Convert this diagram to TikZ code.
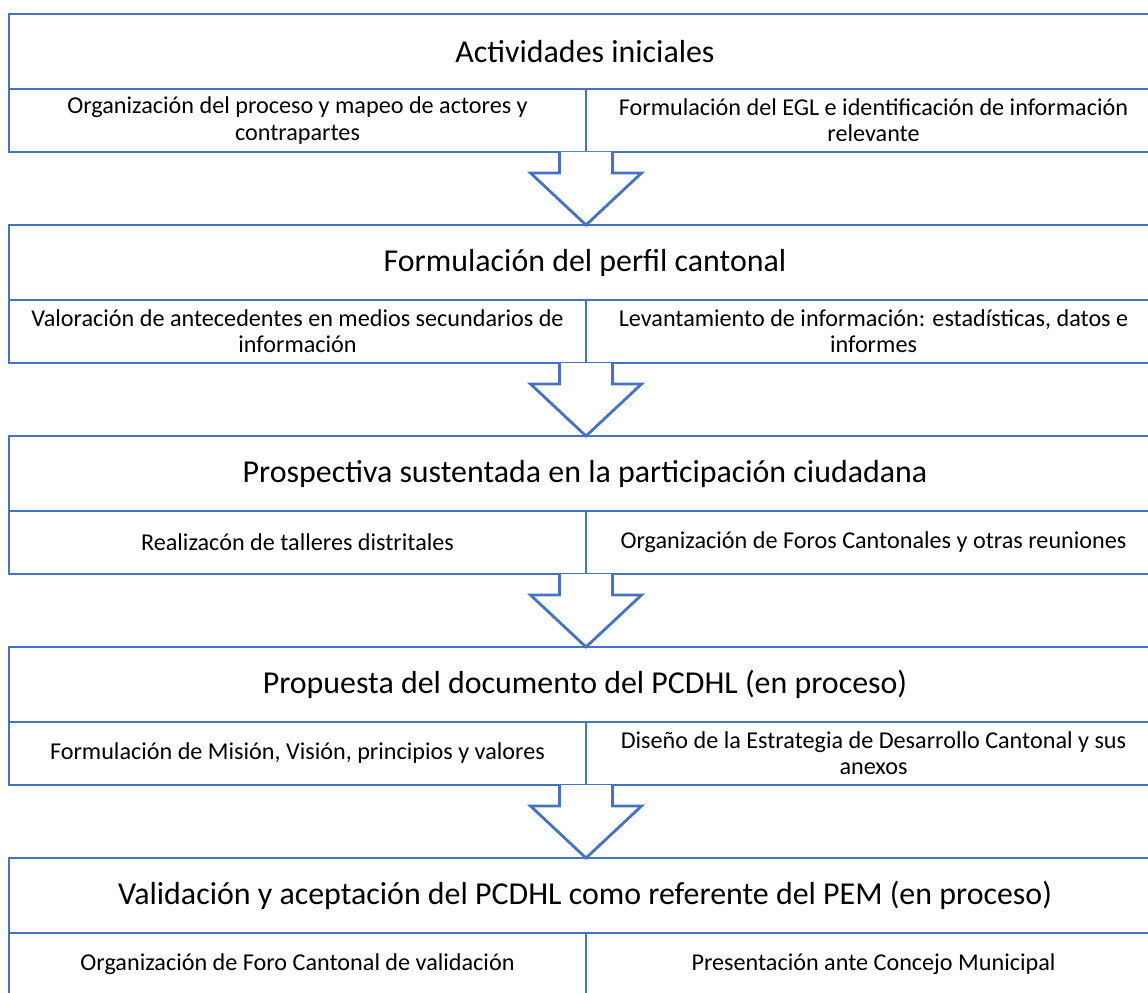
\documentclass[tikz,border=0pt]{standalone}
\usepackage{fontspec}
\setmainfont{Carlito}
\usepackage{xcolor}
\usetikzlibrary{positioning,calc}
\definecolor{boxblue}{HTML}{4472C4}
\tikzset{
  stagetitle/.style={draw=boxblue,line width=2pt,fill=white,inner sep=0pt,outer sep=0pt,
    minimum width=28.8cm,minimum height=1.875cm,font=\fontsize{22.7}{26}\selectfont},
  leftcell/.style={draw=boxblue,line width=2pt,inner sep=0pt,outer sep=0pt,align=center,
    minimum width=14.425cm,minimum height=1.575cm,font=\fontsize{17.2}{18.6}\selectfont},
  rightcell/.style={leftcell,minimum width=14.375cm},
  blockarrow/.style={draw=boxblue,line width=2pt,fill=white,line join=miter}
}

\begin{document}
\begin{tikzpicture}
\clip (0,0) rectangle (28.7,-24.8);
% Stage 1
\node[stagetitle,anchor=north west] (t1) at (0.225,-0.35) {Actividades iniciales};
\node[leftcell,anchor=north west] (l1) at (t1.south west) {Organización del proceso y mapeo de actores y\\contrapartes};
\node[rightcell,anchor=north west] (r1) at (l1.north east) {Formulación del EGL e identificación de información\\relevante};
% Stage 2
\node[stagetitle,below=1.825cm of l1.south west,anchor=north west] (t2) {Formulación del perfil cantonal};
\node[leftcell,anchor=north west] (l2) at (t2.south west) {Valoración de antecedentes en medios secundarios de\\información};
\node[rightcell,anchor=north west] (r2) at (l2.north east) {Levantamiento de información: estadísticas, datos e\\informes};
% Stage 3
\node[stagetitle,below=1.825cm of l2.south west,anchor=north west] (t3) {Prospectiva sustentada en la participación ciudadana};
\node[leftcell,anchor=north west] (l3) at (t3.south west) {Realizacón de talleres distritales};
\node[rightcell,anchor=north west] (r3) at (l3.north east) {Organización de Foros Cantonales y otras reuniones};
% Stage 4
\node[stagetitle,below=1.825cm of l3.south west,anchor=north west] (t4) {Propuesta del documento del PCDHL (en proceso)};
\node[leftcell,anchor=north west] (l4) at (t4.south west) {Formulación de Misión, Visión, principios y valores};
\node[rightcell,anchor=north west] (r4) at (l4.north east) {Diseño de la Estrategia de Desarrollo Cantonal y sus\\anexos};
% Stage 5
\node[stagetitle,below=1.825cm of l4.south west,anchor=north west] (t5) {Validación y aceptación del PCDHL como referente del PEM (en proceso)};
\node[leftcell,anchor=north west] (l5) at (t5.south west) {Organización de Foro Cantonal de validación};
\node[rightcell,anchor=north west] (r5) at (l5.north east) {Presentación ante Concejo Municipal};
% Block arrows
\foreach \a/\b in {l1/t2,l2/t3,l3/t4,l4/t5}
  \draw[blockarrow] ($(\a.south east)+(-0.6625,0)$) -- ++(0,-0.525) -- ++(-0.725,0)
    -- (\a.south east |- \b.north) -- ($(\a.south east)+(1.3875,-0.525)$)
    -- ++(-0.725,0) -- ($(\a.south east)+(0.6625,0)$);
\end{tikzpicture}
\end{document}
